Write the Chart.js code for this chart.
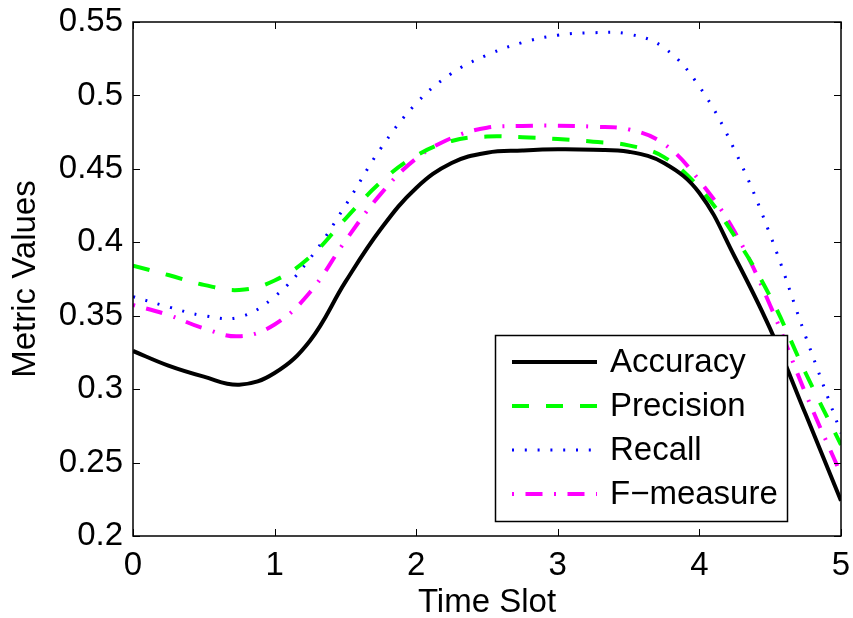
<!DOCTYPE html>
<html>
<head>
<meta charset="utf-8">
<script src="https://cdn.jsdelivr.net/npm/chart.js@4.4.0/dist/chart.umd.min.js"></script>
<style>
  html, body { margin: 0; padding: 0; background: #fff; }
  #chart { display: block; }
</style>
</head>
<body>
<canvas id="chart" width="853" height="618"></canvas>
<script>
// values, every 0.25 time slot
const timeSlots = [0, 0.25, 0.5, 0.75, 1, 1.25, 1.5, 1.75, 2, 2.25, 2.5, 2.75, 3, 3.25, 3.5, 3.75, 4, 4.25, 4.5, 4.75, 5];
const accuracy  = [0.326, 0.316, 0.3085, 0.303, 0.311, 0.333, 0.373, 0.409, 0.437, 0.454, 0.461, 0.4625, 0.4633, 0.463, 0.4617, 0.454, 0.4336, 0.390, 0.341, 0.283, 0.224];
const precision = [0.384, 0.3777, 0.371, 0.3675, 0.374, 0.390, 0.416, 0.441, 0.459, 0.469, 0.472, 0.4715, 0.4703, 0.4685, 0.466, 0.458, 0.437, 0.404, 0.363, 0.311, 0.262];
const recall    = [0.363, 0.356, 0.350, 0.349, 0.363, 0.389, 0.425, 0.464, 0.4946, 0.515, 0.5275, 0.536, 0.541, 0.5427, 0.5418, 0.5325, 0.506, 0.4625, 0.405, 0.336, 0.270];
const fMeasure  = [0.3573, 0.3505, 0.3414, 0.336, 0.344, 0.366, 0.401, 0.433, 0.457, 0.471, 0.478, 0.4792, 0.4794, 0.4787, 0.4769, 0.467, 0.442, 0.407, 0.357, 0.297, 0.242];

const seriesNames = ['Accuracy', 'Precision', 'Recall', 'F\u2212measure'];
const xTitle = 'Time Slot';
const yTitle = 'Metric Values';

const FONT = '"Liberation Sans", Arial, Helvetica, sans-serif';
const FONT_SIZE = 33;

function points(values) {
    return values.map((v, i) => ({ x: timeSlots[i], y: v }));
}

// MATLAB style box, inward ticks on all sides, and the legend
const matlabAxes = {
    id: 'matlabAxes',
    afterDatasetsDraw(chart) {
        const ctx = chart.ctx;
        ctx.save();
        // legend box
        ctx.fillStyle = '#fff';
        ctx.fillRect(495, 335, 292, 186);
        ctx.strokeStyle = '#000';
        ctx.lineWidth = 1.5;
        ctx.setLineDash([]);
        ctx.strokeRect(495.5, 335.5, 292, 186);

        ctx.font = FONT_SIZE + 'px ' + FONT;
        ctx.textBaseline = 'middle';
        ctx.textAlign = 'left';
        chart.data.datasets.forEach((ds, i) => {
            const y = 362 + 44 * i;
            ctx.beginPath();
            ctx.setLineDash(ds.borderDash || []);
            ctx.lineDashOffset = 0;
            ctx.lineWidth = ds.borderWidth;
            ctx.strokeStyle = ds.borderColor;
            ctx.lineCap = 'butt';
            ctx.moveTo(512, y);
            ctx.lineTo(597, y);
            ctx.stroke();
            ctx.fillStyle = '#000';
            ctx.fillText(ds.label, 610, y + 1);
        });
        ctx.restore();
    },
    afterDraw(chart) {
        const ctx = chart.ctx;
        const area = chart.chartArea;
        const xs = chart.scales.x;
        const ys = chart.scales.y;
        const tick = 7;
        ctx.save();
        ctx.strokeStyle = '#000';
        ctx.lineWidth = 1.5;
        ctx.setLineDash([]);
        ctx.strokeRect(area.left, area.top, area.right - area.left, area.bottom - area.top);
        ctx.lineWidth = 1;
        ctx.beginPath();
        xs.ticks.forEach(t => {
            const px = Math.round(xs.getPixelForValue(t.value)) + 0.5;
            ctx.moveTo(px, area.bottom);
            ctx.lineTo(px, area.bottom - tick);
            ctx.moveTo(px, area.top);
            ctx.lineTo(px, area.top + tick);
        });
        ys.ticks.forEach(t => {
            const py = Math.round(ys.getPixelForValue(t.value)) + 0.5;
            ctx.moveTo(area.left, py);
            ctx.lineTo(area.left + tick, py);
            ctx.moveTo(area.right, py);
            ctx.lineTo(area.right - tick, py);
        });
        ctx.stroke();
        ctx.restore();
    }
};

const config = {
    type: 'line',
    data: {
        datasets: [{
            label: seriesNames[0],
            data: points(accuracy),
            borderColor: '#000000',
            borderWidth: 4,
            borderDash: []
        }, {
            label: seriesNames[1],
            data: points(precision),
            borderColor: '#00ff00',
            borderWidth: 4,
            borderDash: [17, 17]
        }, {
            label: seriesNames[2],
            data: points(recall),
            borderColor: '#0000ff',
            borderWidth: 3,
            borderDash: [2, 10.8]
        }, {
            label: seriesNames[3],
            data: points(fMeasure),
            borderColor: '#ff00ff',
            borderWidth: 4,
            borderDash: [2, 11.5, 17, 11.5]
        }]
    },
    options: {
        responsive: false,
        devicePixelRatio: 1,
        animation: false,
        layout: { padding: { top: 22, right: 12, left: 0, bottom: 0 } },
        elements: {
            point: { radius: 0 },
            line: { tension: 0.4, fill: false, borderCapStyle: 'butt' }
        },
        plugins: {
            legend: { display: false },
            tooltip: { enabled: false }
        },
        scales: {
            x: {
                type: 'linear',
                min: 0,
                max: 5,
                grid: { display: false, drawTicks: false },
                border: { display: false },
                ticks: {
                    stepSize: 1,
                    color: '#000',
                    padding: 10,
                    font: { family: FONT, size: FONT_SIZE }
                },
                title: {
                    display: true,
                    text: xTitle,
                    color: '#000',
                    font: { family: FONT, size: FONT_SIZE, lineHeight: 1 },
                    padding: { top: 0, bottom: -1 }
                },
                afterFit(scale) {
                    scale.height = 82;
                    scale.paddingLeft = 0;
                    scale.paddingRight = 0;
                }
            },
            y: {
                type: 'linear',
                min: 0.2,
                max: 0.55,
                grid: { display: false, drawTicks: false },
                border: { display: false },
                ticks: {
                    stepSize: 0.05,
                    autoSkip: false,
                    color: '#000',
                    padding: 10,
                    font: { family: FONT, size: FONT_SIZE },
                    callback: v => String(Number(v.toFixed(2)))
                },
                title: {
                    display: true,
                    text: yTitle,
                    color: '#000',
                    font: { family: FONT, size: FONT_SIZE, lineHeight: 1 },
                    padding: { top: 9, bottom: 0 }
                },
                afterFit(scale) {
                    scale.width = 133;
                    scale.paddingTop = 0;
                    scale.paddingBottom = 0;
                }
            }
        }
    },
    plugins: [matlabAxes]
};

new Chart(document.getElementById('chart'), config);
</script>
</body>
</html>
